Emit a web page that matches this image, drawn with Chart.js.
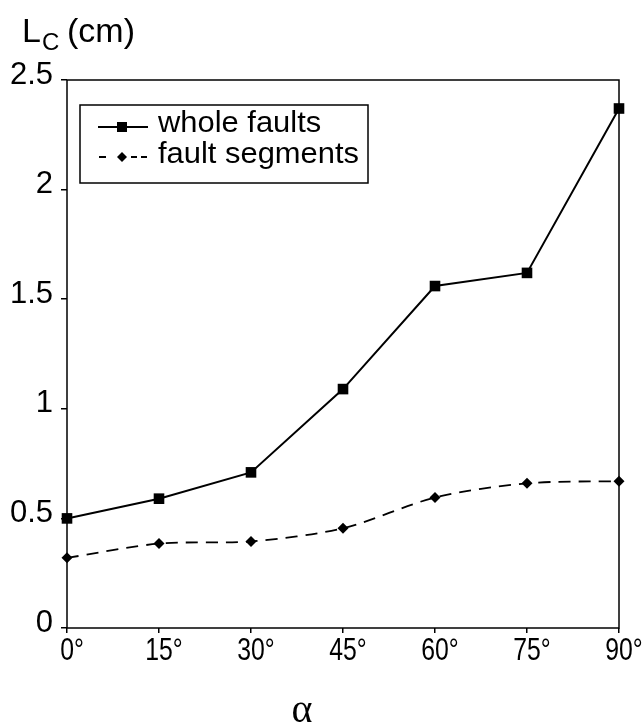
<!DOCTYPE html>
<html>
<head>
<meta charset="utf-8">
<script src="https://cdn.jsdelivr.net/npm/chart.js@4.4.1/dist/chart.umd.min.js"></script>
<style>
  html, body { margin: 0; padding: 0; background: #fff; }
  #wrap { width: 642px; height: 725px; }
</style>
</head>
<body>
<div id="wrap"><canvas id="lcChart" width="642" height="725"></canvas></div>
<script>
// angle categories and measured critical lengths
const alphaLabels = ["0°", "15°", "30°", "45°", "60°", "75°", "90°"];
const wholeFaults = [0.50, 0.59, 0.71, 1.09, 1.56, 1.62, 2.37];
const faultSegments = [0.32, 0.385, 0.395, 0.455, 0.595, 0.66, 0.67];
const seriesNames = ["whole faults", "fault segments"];
const yMin = 0, yMax = 2.5, yStep = 0.5;

const sansFont = '"Liberation Sans", Arial, sans-serif';

// frame round the plot, condensed angle labels, boxed legend and axis titles
const decorations = {
  id: "decorations",
  beforeDatasetsDraw(chart) {
    const { ctx, chartArea: a } = chart;
    ctx.save();
    ctx.strokeStyle = "#000";
    ctx.lineWidth = 1.5;
    ctx.strokeRect(a.left, a.top, a.right - a.left, a.bottom - a.top);
    ctx.restore();
  },
  afterDraw(chart) {
    const ctx = chart.ctx;
    const sets = chart.data.datasets;
    const xs = chart.scales.x;
    ctx.save();
    ctx.fillStyle = "#000";
    ctx.strokeStyle = "#000";

    // angle tick labels, narrow face
    ctx.font = "31px " + sansFont;
    ctx.textAlign = "center";
    ctx.textBaseline = "alphabetic";
    xs.getLabels().forEach((lab, i) => {
      const px = xs.getPixelForValue(i);
      ctx.save();
      ctx.translate(px + 5, xs.top + 32);
      ctx.scale(0.8, 1);
      ctx.fillText(lab, 0, 0);
      ctx.restore();
    });

    // legend box
    ctx.fillStyle = "#fff";
    ctx.fillRect(80, 105, 288, 78);
    ctx.fillStyle = "#000";
    ctx.lineWidth = 1.5;
    ctx.strokeRect(80, 105, 288, 78);

    // whole faults sample: solid line with square
    ctx.lineWidth = 2;
    ctx.beginPath();
    ctx.moveTo(98, 127);
    ctx.lineTo(148, 127);
    ctx.stroke();
    ctx.fillRect(117, 122, 10, 10);

    // fault segments sample: broken line with diamond
    [[99, 106], [131, 137], [141, 147]].forEach(([x0, x1]) => {
      ctx.beginPath();
      ctx.moveTo(x0, 157);
      ctx.lineTo(x1, 157);
      ctx.stroke();
    });
    ctx.beginPath();
    ctx.moveTo(122, 152);
    ctx.lineTo(127, 157);
    ctx.lineTo(122, 162);
    ctx.lineTo(117, 157);
    ctx.closePath();
    ctx.fill();

    ctx.font = "30px " + sansFont;
    ctx.textAlign = "left";
    [[sets[0].label, 132], [sets[1].label, 163]].forEach(([txt, y]) => {
      ctx.save();
      ctx.translate(158, y);
      ctx.scale(1.03, 1);
      ctx.fillText(txt, 0, 0);
      ctx.restore();
    });

    // y title: L subscript C (cm)
    ctx.font = "34px " + sansFont;
    ctx.fillText("L", 22, 42);
    ctx.font = "24px " + sansFont;
    ctx.fillText("C", 42, 50);
    ctx.font = "34px " + sansFont;
    ctx.fillText("(cm)", 67, 42);

    // x title
    ctx.font = "40px \"Liberation Serif\", \"Times New Roman\", serif";
    ctx.textAlign = "center";
    ctx.fillText("α", 302, 722);
    ctx.restore();
  }
};

new Chart(document.getElementById("lcChart"), {
  type: "line",
  data: {
    labels: alphaLabels,
    datasets: [
      {
        label: seriesNames[0],
        data: wholeFaults,
        borderColor: "#000",
        backgroundColor: "#000",
        borderWidth: 2,
        pointStyle: "rect",
        pointRadius: 7.5,
        pointBorderWidth: 0,
        tension: 0,
        clip: false
      },
      {
        label: seriesNames[1],
        data: faultSegments,
        borderColor: "#000",
        backgroundColor: "#000",
        borderWidth: 1.8,
        borderDash: [12, 8],
        pointStyle: "rectRot",
        pointRadius: 5.5,
        pointBorderWidth: 0,
        tension: 0.3,
        clip: false
      }
    ]
  },
  options: {
    responsive: false,
    devicePixelRatio: 1,
    animation: false,
    layout: { padding: { left: 0, top: 80, right: 23, bottom: 0 } },
    plugins: {
      legend: { display: false },
      tooltip: { enabled: false }
    },
    scales: {
      x: {
        type: "category",
        offset: false,
        afterFit(scale) { scale.height = 97; },
        grid: { display: true, drawOnChartArea: false, drawTicks: true, tickLength: 5, color: "#000", lineWidth: 1.5 },
        border: { display: false },
        ticks: { display: false, autoSkip: false }
      },
      y: {
        min: yMin,
        max: yMax,
        afterFit(scale) { scale.width = 67; },
        grid: { display: true, drawOnChartArea: false, drawTicks: true, tickLength: 6, color: "#000", lineWidth: 1.5 },
        border: { display: false },
        ticks: {
          stepSize: yStep,
          color: "#000",
          font: { family: sansFont, size: 31 },
          padding: 8,
          labelOffset: -5,
          callback: v => String(v)
        }
      }
    }
  },
  plugins: [decorations]
});
</script>
</body>
</html>
